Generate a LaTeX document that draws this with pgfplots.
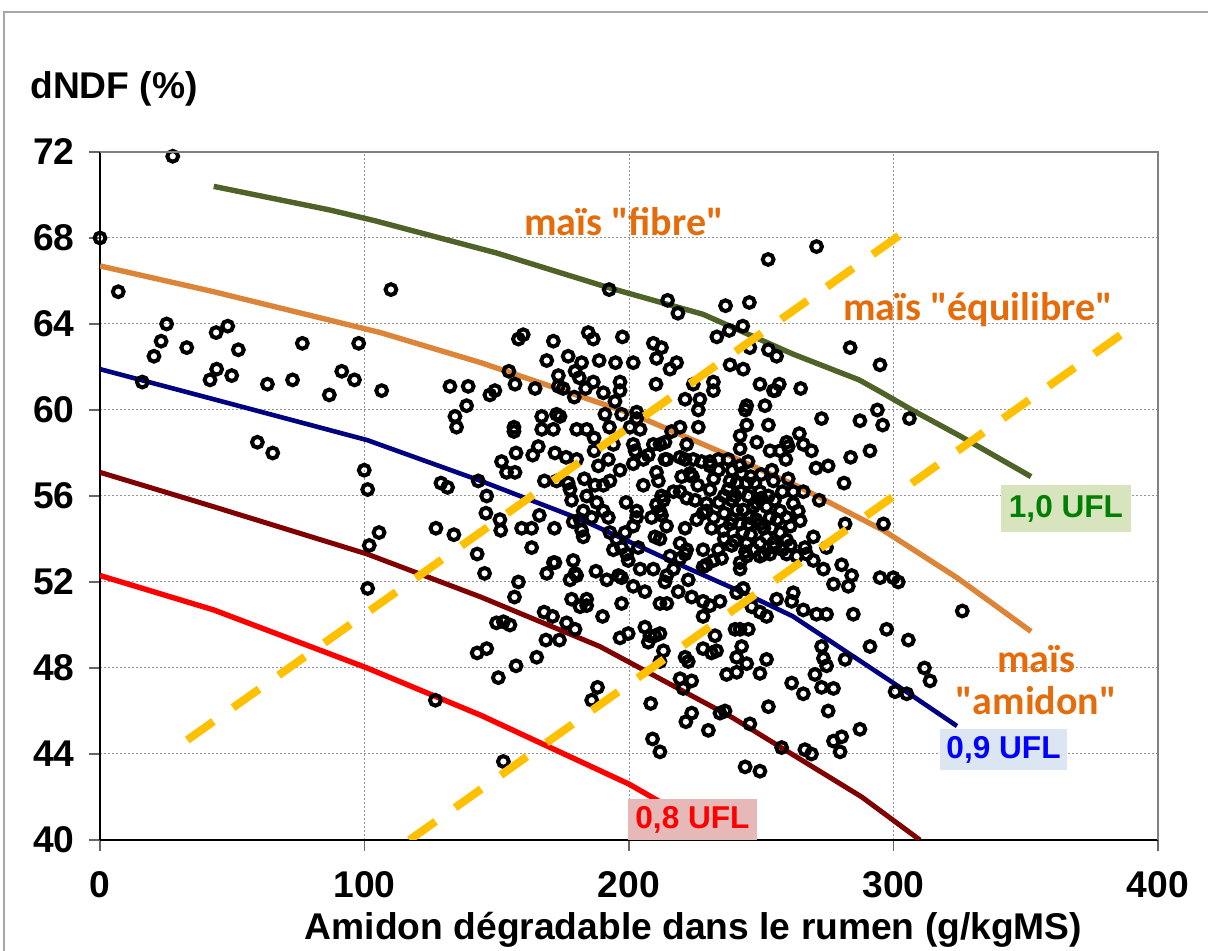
\documentclass[border=0pt]{standalone}
\usepackage{pgfplots}
\pgfplotsset{compat=1.18}
\usepackage{fontspec}
\setmainfont{Liberation Sans}
\newfontfamily\calibri{Carlito}

\definecolor{cgreen}{HTML}{4F6228}
\definecolor{corange}{HTML}{DC8539}
\definecolor{clabel}{HTML}{E46C0A}
\definecolor{cnavy}{HTML}{000080}
\definecolor{cdark}{HTML}{800000}
\definecolor{cyellow}{HTML}{FFC000}
\definecolor{boxgreen}{HTML}{D7E4BD}
\definecolor{boxblue}{HTML}{DCE6F2}
\definecolor{boxred}{HTML}{E6B8B7}
\definecolor{txtgreen}{HTML}{008000}

\newcommand\bigtxt{\fontsize{18.6}{22}\selectfont\bfseries}
\newcommand\ufl{\fontsize{15.8}{18}\selectfont\bfseries}
\newcommand\mais{\fontsize{20}{22}\selectfont\calibri\bfseries}

\begin{document}
\begin{tikzpicture}
\useasboundingbox (0,0) rectangle (604pt,475.5pt);
% outer chart frame
\draw[gray!70, line width=0.8pt] (2pt,-5pt) -- (2pt,469.5pt) -- (620pt,469.5pt);
\node[anchor=base west, font=\bigtxt, inner sep=0pt] at (15pt,426pt) {dNDF (\%)};
\node[anchor=base, font=\bigtxt, inner sep=0pt] at (346.75pt,5.5pt) {Amidon dégradable dans le rumen (g/kgMS)};

\begin{axis}[
    at={(50pt,55.5pt)}, anchor=south west,
    scale only axis, width=529pt, height=344pt,
    xmin=0, xmax=400, ymin=40, ymax=72,
    xtick={0,100,200,300,400},
    ytick={40,44,48,52,56,60,64,68,72},
    axis x line*=bottom, axis y line*=left,
    axis line style={black, line width=0.9pt},
    tick align=outside, major tick length=5.5pt,
    tick style={black!60, line width=0.6pt},
    grid=major,
    major grid style={gray!85, dash pattern=on 1pt off 1pt, line width=0.5pt},
    /pgf/number format/assume math mode=true,
    ticklabel style={font=\bigtxt, inner sep=0pt},
    xticklabel style={anchor=north, yshift=-10pt},
    yticklabel style={anchor=east, xshift=-7pt},
    clip mode=individual,
    every mark/.append style={line width=2pt},
]
% UFL iso-lines and maize types
\addplot[cgreen, line width=2.7pt] coordinates {
 (43,70.4) (87,69.3) (104,68.8) (150,67.3) (192,65.7) (228,64.45)
 (262,62.6) (287,61.4) (295,60.85) (307,60.0) (325,58.8) (352,56.9)};
\addplot[corange, line width=2.7pt] coordinates {
 (0,66.7) (43,65.5) (106,63.6) (144,62.2) (201.6,59.8) (239.4,57.8) (264.7,56.4)
 (296.2,54.4) (324,52.2) (352,49.7)};
\addplot[cnavy, line width=2.3pt] coordinates {
 (0,61.9) (43,60.5) (101,58.6) (144,56.7) (182,54.9) (212,53.2) (245,51.4)
 (262,50.4) (300,47.3) (324,45.3)};
\addplot[cdark, line width=2.5pt] coordinates {
 (0,57.1) (43,55.5) (101,53.3) (144,51.3) (189,49.0) (239,45.7) (288,42.0) (310,40.0)};
\addplot[red, line width=2.7pt] coordinates {
 (0,52.3) (43,50.7) (101,48.0) (144,45.8) (200,42.6) (237,40.0)};

% observations
\addplot[only marks, mark=o, mark size=2.7pt, black, line width=2pt] coordinates {
 (0,68.0) (6.9,65.5) (27.5,71.8) (110,65.6) (25.2,64.0) (23.1,63.2) (20.4,62.5) (16.0,61.3)
 (32.8,62.9) (43.9,63.6) (48.3,63.9) (52.3,62.8) (44.1,61.9) (41.6,61.4) (49.8,61.6) (63.3,61.2)
 (72.8,61.4) (76.5,63.1) (86.7,60.7) (91.4,61.8) (96.2,61.4) (97.8,63.1) (106.5,60.9) (132.3,61.1)
 (139.2,61.1) (138.6,60.2) (134.2,59.7) (134.8,59.2) (59.5,58.5) (65.3,58.0) (99.9,57.2) (101.2,56.3)
 (128.9,56.6) (131.4,56.4) (143.0,56.7) (105.5,54.3) (101.8,53.7) (127.0,54.5) (133.8,54.2) (142.6,53.3)
 (145.4,52.4) (101.2,51.7) (142.6,48.7) (146.2,48.9) (126.8,46.5)
 (146.2,56.0) (145.9,55.2) (151.2,54.9) (151.5,54.4) (158.2,52.0) (156.7,51.3) (147.4,60.7) (149.3,60.9)
 (154.6,61.8) (156.9,61.2) (164.5,61.0) (158.2,63.3) (160.0,63.5) (171.4,63.2) (168.9,62.3) (177.0,62.5)
 (182.1,62.2) (173.3,61.6) (173.3,61.1) (175.1,61.0) (179.6,61.8) (181.2,61.5) (179.3,60.6) (184.6,63.6)
 (186.5,63.3) (188.7,62.3) (186.5,61.3) (183.6,61.0) (190.3,60.8) (196.6,61.3) (196.6,60.9) (197.5,63.4)
 (194.9,62.2) (201.6,62.2) (194.7,60.4) (190.9,59.8) (197.2,59.8) (202.9,59.9) (202.9,59.6) (209.2,63.1)
 (212.3,62.9) (210.4,62.4) (215.5,61.9) (218.0,62.2) (210.2,61.2)
 (156.5,59.2) (156.5,59.0) (167.0,59.1) (171.4,59.1) (173.9,59.7) (172.6,59.8) (167.0,59.7) (180.2,59.1)
 (184.0,59.1) (186.8,58.7) (192.6,59.2) (200.4,59.2) (204.2,59.1) (151.8,57.6) (157.3,58.0) (153.7,57.1)
 (156.9,57.1) (163.6,57.9) (165.7,58.3) (172.0,58.0) (176.2,57.8) (180.2,57.7) (168.0,56.7) (172.6,56.7)
 (186.8,58.1) (188.4,57.4) (192.2,57.7) (196.6,57.2) (194.1,58.4) (201.6,58.4) (202.3,58.1) (201.6,57.5)
 (205.4,57.7) (207.3,57.9) (209.2,58.4) (211.7,58.4) (213.6,58.5) (213.6,57.7) (210.4,57.1) (211.1,56.7)
 (205.4,56.5) (183.1,56.8) (187.1,56.5) (192.8,56.7) (190.3,56.5) (177.0,56.6) (177.7,56.3) (184.0,56.0)
 (178.3,55.8) (187.8,55.7) (190.3,55.3) (182.7,55.3) (181.5,54.9) (185.9,55.0) (192.2,55.0) (178.9,54.8)
 (182.1,54.4) (182.7,54.1) (192.8,54.3) (195.3,54.0) (198.5,54.3) (201.6,54.6) (197.2,53.6) (194.1,53.5)
 (199.1,53.3) (203.5,53.6) (202.9,55.3) (202.9,55.0) (198.9,55.7) (208.5,55.0) (212.3,55.1) (210.4,55.6)
 (212.3,56.0) (214.2,54.6) (209.8,54.1) (211.7,54.0) (159.4,54.5) (163.2,54.5) (166.1,55.1) (171.8,54.5)
 (163.2,53.6) (216.1,59.0) (219.3,59.2) (221.8,58.4)
 (233.2,63.4) (237.9,63.7) (243.0,63.9) (245.7,62.9) (252.7,62.8) (255.8,62.5) (238.2,62.1) (243.2,61.9)
 (231.9,61.3) (231.9,60.9) (224.3,61.2) (221.2,60.5) (226.8,60.5) (226.2,60.0) (249.5,61.2) (254.6,60.9)
 (244.5,60.2) (244.0,60.0) (251.4,60.2) (226.2,59.2) (252.7,59.3) (244.5,59.3)
 (192.5,65.6) (214.6,65.1) (218.5,64.5) (236.5,64.85) (245.5,65.0) (252.6,67.0) (270.9,67.6)
 (283.6,62.9) (294.9,62.1) (272.8,59.6) (287.3,59.5) (293.9,60.0) (295.9,59.3) (306.0,59.6) (264.9,61.0)
 (256.8,61.2) (255.2,60.9) (242.0,58.8) (248.3,58.5) (242.0,58.2) (253.3,58.1) (257.1,58.1) (259.6,58.5)
 (260.2,58.3) (264.4,58.9) (265.9,58.4) (269.0,58.1) (259.3,57.7) (270.7,57.3) (275.3,57.4) (283.8,57.8)
 (291.1,58.1) (281.3,56.6) (260.2,56.8) (254.6,56.7) (262.1,56.2) (265.9,56.2) (271.9,55.8) (281.7,54.7)
 (296.2,54.7) (264.7,54.85) (262.1,55.65) (269.7,54.1) (274.7,53.6) (266.5,53.6)
 (219.3,57.8) (221.2,57.7) (224.3,57.7) (227.4,57.6) (230.6,57.6) (233.8,57.7) (237.5,57.7) (242.0,57.4)
 (242.6,57.05) (230.6,57.4) (233.8,57.2) (223.1,57.05) (219.9,56.9) (214.3,57.7) (238.2,56.7) (240.7,56.6)
 (244.5,56.6) (247.6,56.6) (216.8,56.2) (219.3,56.2) (221.8,55.9) (225.0,55.8) (230.6,56.3) (237.5,56.3)
 (240.1,56.0) (249.5,56.2) (252.7,56.0) (213.0,55.8) (211.7,55.3) (229.3,55.65) (229.3,55.3) (225.6,54.9)
 (221.2,54.5) (231.2,54.5) (235.7,54.4) (238.2,54.7) (242.0,54.7) (245.1,54.7) (249.5,54.7) (253.3,55.0)
 (257.1,55.3) (259.6,55.0) (243.2,55.35) (245.7,55.0) (248.3,55.65) (240.7,55.35) (249.5,53.8) (244.5,53.8)
 (252.0,54.1) (257.1,54.3) (254.6,53.8) (259.6,53.95) (219.3,53.8) (221.8,53.5) (228.0,53.5) (233.8,53.5)
 (238.8,53.7)
 (236,56.0) (239,55.8) (242,56.2) (245,56.0) (247,55.5) (250,55.9) (252,55.5) (255,55.8)
 (236,55.2) (239,54.9) (243,54.3) (246,54.2) (248,54.9) (251,54.5) (254,54.5) (256,54.9)
 (234,55.7) (244,53.4) (247,53.5) (251,53.3) (255,53.6) (258,53.5) (261,53.7) (240,53.9)
 (236,54.0) (246,56.9) (250,57.0) (245,57.6) (239,57.2) (226,56.5) (228,55.2) (232,56.8)
 (224,56.9) (261,54.6) (264,55.3) (258,56.2) (254,57.2) (232,55.0) (235,53.1) (242,52.6)
 (215.5,53.2) (219.3,53.1) (221.2,53.3) (242.0,52.9) (244.5,53.2) (249.5,53.2) (253.3,53.3) (259.6,53.3)
 (263.4,53.2) (267.1,53.3) (269.7,53.0) (273.5,52.6) (277.3,51.9) (280.4,52.8) (284.2,52.3) (282.9,51.8)
 (294.9,52.2) (299.9,52.2) (301.8,52.0) (214.3,52.3) (216.8,52.6) (222.4,52.1) (228.0,52.7) (231.9,53.0)
 (229.3,52.8) (218.6,51.55) (223.7,51.3) (228.0,51.1) (230.6,50.9) (234.4,51.1) (240.7,51.5) (243.2,51.7)
 (214.3,51.0) (211.7,51.0) (228.0,50.4) (246.4,50.85) (249.5,50.6) (252.0,50.4) (255.8,51.2) (261.5,51.1)
 (265.9,50.7) (270.9,50.5) (274.7,50.5) (262.1,51.5) (284.8,50.5) (297.4,49.8) (291.1,49.0) (281.7,48.4)
 (305.6,49.3) (272.8,49.0) (273.5,48.45) (274.7,48.1) (270.3,47.7) (272.8,47.1) (277.3,47.05) (261.5,47.3)
 (265.9,46.8) (275.3,46.0) (287.3,45.15) (280.4,44.8) (277.3,44.6) (279.8,44.1) (300.6,46.9) (305.0,46.8)
 (252.7,46.2) (245.7,45.4) (257.7,44.3) (266.5,44.2) (269.0,44.0) (243.9,43.4) (249.5,43.2) (236.3,46.0)
 (234.4,45.9) (223.7,45.9) (221.5,45.5) (230.0,45.1) (219.3,47.5) (223.7,47.4) (220.5,47.05) (236.9,47.7)
 (240.7,47.8) (244.5,48.2) (249.5,47.75) (252.0,48.4) (240.7,48.5) (242.6,49.0) (231.2,48.7) (233.1,48.8)
 (228.0,48.9) (232.5,49.5) (213.0,48.8) (211.7,48.3) (221.2,48.5) (222.4,48.3) (242.0,49.8) (245.1,49.8)
 (240.1,49.8) (211.7,49.6)
 (168.9,52.4) (171.4,52.9) (172.0,52.9) (178.9,53.0) (179.6,52.4) (177.7,52.1) (180.2,52.3) (187.5,52.5)
 (191.6,52.1) (196.0,52.3) (197.2,52.2) (199.7,53.0) (201.6,51.8) (204.2,52.6) (206.0,51.55) (209.2,52.6)
 (213.6,52.0) (178.3,51.2) (184.0,51.2) (181.5,50.85) (184.0,50.9) (167.9,50.6) (171.1,50.4) (176.4,50.1)
 (179.6,49.8) (190.0,50.4) (197.2,51.0) (149.9,50.1) (152.5,50.15) (155.0,50.0) (168.6,49.3) (173.7,49.3)
 (196.6,49.4) (199.7,49.6) (206.0,49.9) (207.9,49.5) (209.8,49.5) (207.3,49.2) (157.3,48.1) (165.1,48.5)
 (150.6,47.55) (188.1,47.1) (185.9,46.5) (208.2,46.35) (208.9,44.7) (211.7,44.1) (152.5,43.65)
 (326.0,50.65) (311.7,48.0) (313.8,47.4)
};

% limits between maize types
\addplot[cyellow, line width=4pt, dash pattern=on 16pt off 12pt] coordinates {(33,44.65) (302,68.1)};
\addplot[cyellow, line width=4pt, dash pattern=on 16pt off 12pt] coordinates {(117,40.0) (386,63.5)};

% top and right frame of the plot area
\draw[gray, line width=1.3pt] (rel axis cs:0,1) -- (rel axis cs:1,1) -- (rel axis cs:1,0);

% labels
\node[font=\mais, text=clabel] at (axis cs:198.1,68.74) {maïs "fibre"};
\node[font=\mais, text=clabel] at (axis cs:332,64.65) {maïs "équilibre"};
\node[font=\mais, text=clabel, align=center] at (axis cs:353.9,47.45) {maïs\\[-1pt]"amidon"};
\node[font=\ufl, text=txtgreen, fill=boxgreen, minimum width=65pt, minimum height=23.5pt, inner sep=0pt] at (axis cs:365.2,55.42) {1,0 UFL};
\node[font=\ufl, text=blue, fill=boxblue, minimum width=63.5pt, minimum height=20.5pt, inner sep=0pt] at (axis cs:341.6,44.21) {0,9 UFL};
\node[font=\ufl, text=red, fill=boxred, minimum width=64.5pt, minimum height=20.5pt, inner sep=0pt] at (axis cs:224,40.95) {0,8 UFL};
\end{axis}
\end{tikzpicture}
\end{document}
